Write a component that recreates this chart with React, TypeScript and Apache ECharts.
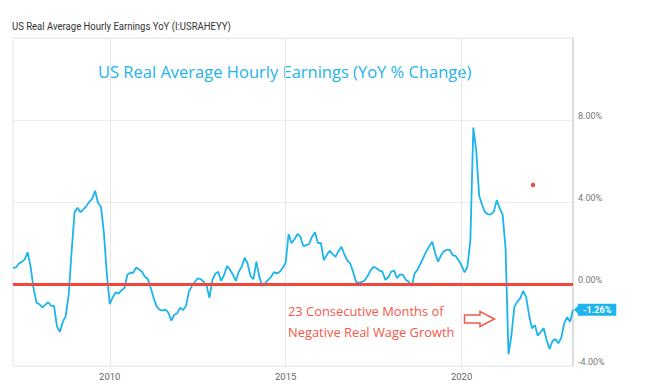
import { useEffect, useRef } from "react";
import * as echarts from "echarts";

// Monthly series, month-end dates, starting March 2007
const START_YEAR = 2007;
const START_MONTH = 3;

const v2007 = [0.8, 0.8, 1.0, 1.08, 1.2, 1.55, 0.85, -0.2, -0.9, -0.99];
const v2008 = [-1.14, -1.02, -0.89, -1.06, -1.07, -2.08, -2.33, -1.85, -1.55, -0.5, 1.6, 3.5];
const v2009 = [3.72, 3.5, 3.64, 3.8, 4.0, 4.15, 4.55, 3.95, 3.77, 2.5, 0.5, -0.98];
const v2010 = [-0.65, -0.4, -0.47, -0.3, -0.2, 0.45, 0.55, 0.55, 0.8, 0.72, 0.6, 0.35];
const v2011 = [0.24, -0.2, -0.7, -1.1, -1.25, -1.3, -1.25, -1.4, -1.79, -1.5, -1.43, -1.15];
const v2012 = [-1.27, -1.07, -0.37, -0.1, 0.1, 0.28, 0.24, 0.11, -0.05, -0.67, 0.2, 0.5];
const v2013 = [0.6, 0.15, 0.44, 0.88, 0.7, 0.45, 0.15, 0.6, 0.84, 1.28, 1.0, 0.4];
const v2014 = [0.23, 1.09, 0.36, -0.1, 0.03, 0.2, 0.34, 0.58, 0.52, 0.6, 0.78, 1.05];
const v2015 = [2.44, 1.99, 2.18, 2.44, 2.31, 1.85, 1.9, 1.95, 2.31, 2.52, 1.99, 2.01];
const v2016 = [1.17, 1.41, 1.62, 1.46, 1.33, 1.6, 1.82, 1.45, 1.15, 1.0, 0.6, 0.1];
const v2017 = [0.06, 0.1, 0.18, 0.4, 0.68, 0.84, 0.77, 0.65, 0.6, 0.2, 0.33, 0.6];
const v2018 = [0.65, 0.28, 0.47, 0.44, 0.2, 0.11, -0.1, 0.52, 0.7, 1.0, 1.3, 1.6];
const v2019 = [1.85, 2.06, 1.5, 1.09, 1.4, 1.6, 1.66, 1.66, 1.4, 1.37, 1.15, 0.9];
const v2020 = [0.57, 0.84, 2.15, 7.63, 6.5, 4.3, 3.85, 3.5, 3.4, 3.4, 3.53, 4.1];
const v2021 = [3.69, 3.4, 1.74, -3.43, -2.5, -1.11, -0.86, -0.7, -0.34, -0.62, -1.51, -2.16];
const v2022 = [-2.0, -2.52, -2.33, -2.16, -2.73, -3.17, -2.78, -2.68, -2.89, -2.62, -1.92, -1.62];
const v2023 = [-1.84, -1.26];

const values: number[] = [
  ...v2007, ...v2008, ...v2009, ...v2010, ...v2011, ...v2012, ...v2013, ...v2014,
  ...v2015, ...v2016, ...v2017, ...v2018, ...v2019, ...v2020, ...v2021, ...v2022, ...v2023,
];

const pad = (n: number) => (n < 10 ? "0" + n : String(n));
const categories: string[] = values.map((_, i) => {
  const m = START_MONTH - 1 + i;
  const y = START_YEAR + Math.floor(m / 12);
  const mo = (m % 12) + 1;
  const last = new Date(Date.UTC(y, mo, 0)).getUTCDate();
  return `${y}-${pad(mo)}-${pad(last)}`;
});

const yearTicks = [2010, 2015, 2020];
const yMin = -4;
const yMax = 12;
const yStep = 4;

const TITLE = "US Real Average Hourly Earnings YoY (I:USRAHEYY)";
const NOTE_TOP = "US Real Average Hourly Earnings (YoY % Change)";
const NOTE_LINE1 = "23 Consecutive Months of";
const NOTE_LINE2 = "Negative Real Wage Growth";

const BLUE = "#1cb4ec";
const RED = "#f4473a";
const RED_TEXT = "#f4584b";

// a Dec-31 point sits on the Jan-1 boundary of the following year
const isYearTick = (val: string) => {
  const y = Number(val.slice(0, 4));
  const mo = val.slice(5, 7);
  return mo === "12" && yearTicks.includes(y + 1);
};

export default function App() {
  const ref = useRef<HTMLDivElement>(null);

  useEffect(() => {
    if (!ref.current) return;
    const chart = echarts.init(ref.current, undefined, { renderer: "svg" });
    const lastIdx = values.length - 1;

    chart.setOption({
      animation: false,
      backgroundColor: "#ffffff",
      grid: {
        left: 13,
        right: 77,
        top: 38,
        bottom: 24,
        show: true,
        borderColor: "#e4e4e4",
        borderWidth: 1,
      },
      xAxis: {
        type: "category",
        data: categories,
        boundaryGap: false,
        axisLine: { show: true, lineStyle: { color: "#d6d6d6", width: 2 } },
        axisTick: { show: false },
        axisLabel: {
          interval: (_i: number, val: string) => isYearTick(val),
          formatter: (val: string) => (isYearTick(val) ? String(Number(val.slice(0, 4)) + 1) : ""),
          color: "#666",
          fontSize: 9.5,
          fontFamily: "Roboto",
          margin: 5,
        },
        splitLine: {
          show: true,
          interval: (_i: number, val: string) => isYearTick(val),
          lineStyle: { color: "#e6e6e6", width: 1 },
        },
      },
      yAxis: {
        type: "value",
        position: "right",
        min: yMin,
        max: yMax,
        interval: yStep,
        axisLine: { show: true, lineStyle: { color: "#d6d6d6", width: 1.5 } },
        axisTick: { show: false },
        axisLabel: {
          formatter: (v: number) => (v === yMax ? "" : v.toFixed(2) + "%"),
          color: "#777",
          fontSize: 9,
          fontFamily: "Roboto",
          margin: 5,
          verticalAlign: "bottom",
        },
        splitLine: { show: true, lineStyle: { color: "#ececec", width: 1 } },
      },
      series: [
        {
          type: "line",
          data: values,
          showSymbol: false,
          symbol: "none",
          lineStyle: { color: BLUE, width: 1.8 },
          itemStyle: { color: BLUE },
          z: 3,
          endLabel: {
            show: true,
            formatter: (p: any) => Number(p.value).toFixed(2) + "%",
            backgroundColor: BLUE,
            color: "#ffffff",
            fontWeight: "bold",
            fontSize: 9,
            fontFamily: "Roboto",
            padding: [2, 5, 1, 5],
            distance: 5,
          },
          markLine: {
            silent: true,
            symbol: ["none", "none"],
            label: { show: false },
            lineStyle: { color: RED, width: 2.8, type: "solid" },
            data: [{ yAxis: 0 }],
            z: 4,
          },
          markPoint: {
            silent: true,
            label: { show: false },
            data: [
              {
                coord: [categories[lastIdx], values[lastIdx]],
                symbol: "triangle",
                symbolSize: [12, 6],
                symbolRotate: 90,
                symbolOffset: [4, 0],
                itemStyle: { color: BLUE },
              },
            ],
          },
        },
      ],
      graphic: [
        {
          type: "text",
          x: 12,
          y: 26,
          scaleX: 0.83,
          style: {
            text: TITLE,
            fontSize: 11.5,
            fontFamily: "Roboto",
            fill: "#333",
            textVerticalAlign: "middle",
          },
        },
        {
          type: "text",
          x: 98,
          y: 71,
          style: {
            text: NOTE_TOP,
            fontSize: 16.5,
            fontFamily: "Open Sans",
            fill: "#22b4ea",
            textVerticalAlign: "middle",
          },
        },
        {
          type: "text",
          x: 288,
          y: 311,
          style: {
            text: NOTE_LINE1,
            fontSize: 12.9,
            fontFamily: "Open Sans",
            fill: RED_TEXT,
            textVerticalAlign: "middle",
          },
        },
        {
          type: "text",
          x: 288,
          y: 332,
          style: {
            text: NOTE_LINE2,
            fontSize: 12.9,
            fontFamily: "Open Sans",
            fill: RED_TEXT,
            textVerticalAlign: "middle",
          },
        },
        {
          type: "polygon",
          shape: {
            points: [
              [464.5, 315],
              [480, 315],
              [480, 311.5],
              [494.5, 319],
              [480, 326.5],
              [480, 323],
              [464.5, 323],
            ],
          },
          style: { fill: "#ffffff", stroke: RED_TEXT, lineWidth: 1.5 },
        },
        {
          type: "circle",
          shape: { cx: 533, cy: 185, r: 2.2 },
          style: { fill: RED },
        },
      ],
    });

    return () => chart.dispose();
  }, []);

  return (
    <div
      ref={ref}
      style={{ position: "fixed", left: 0, top: 0, width: 650, height: 390 }}
    />
  );
}
